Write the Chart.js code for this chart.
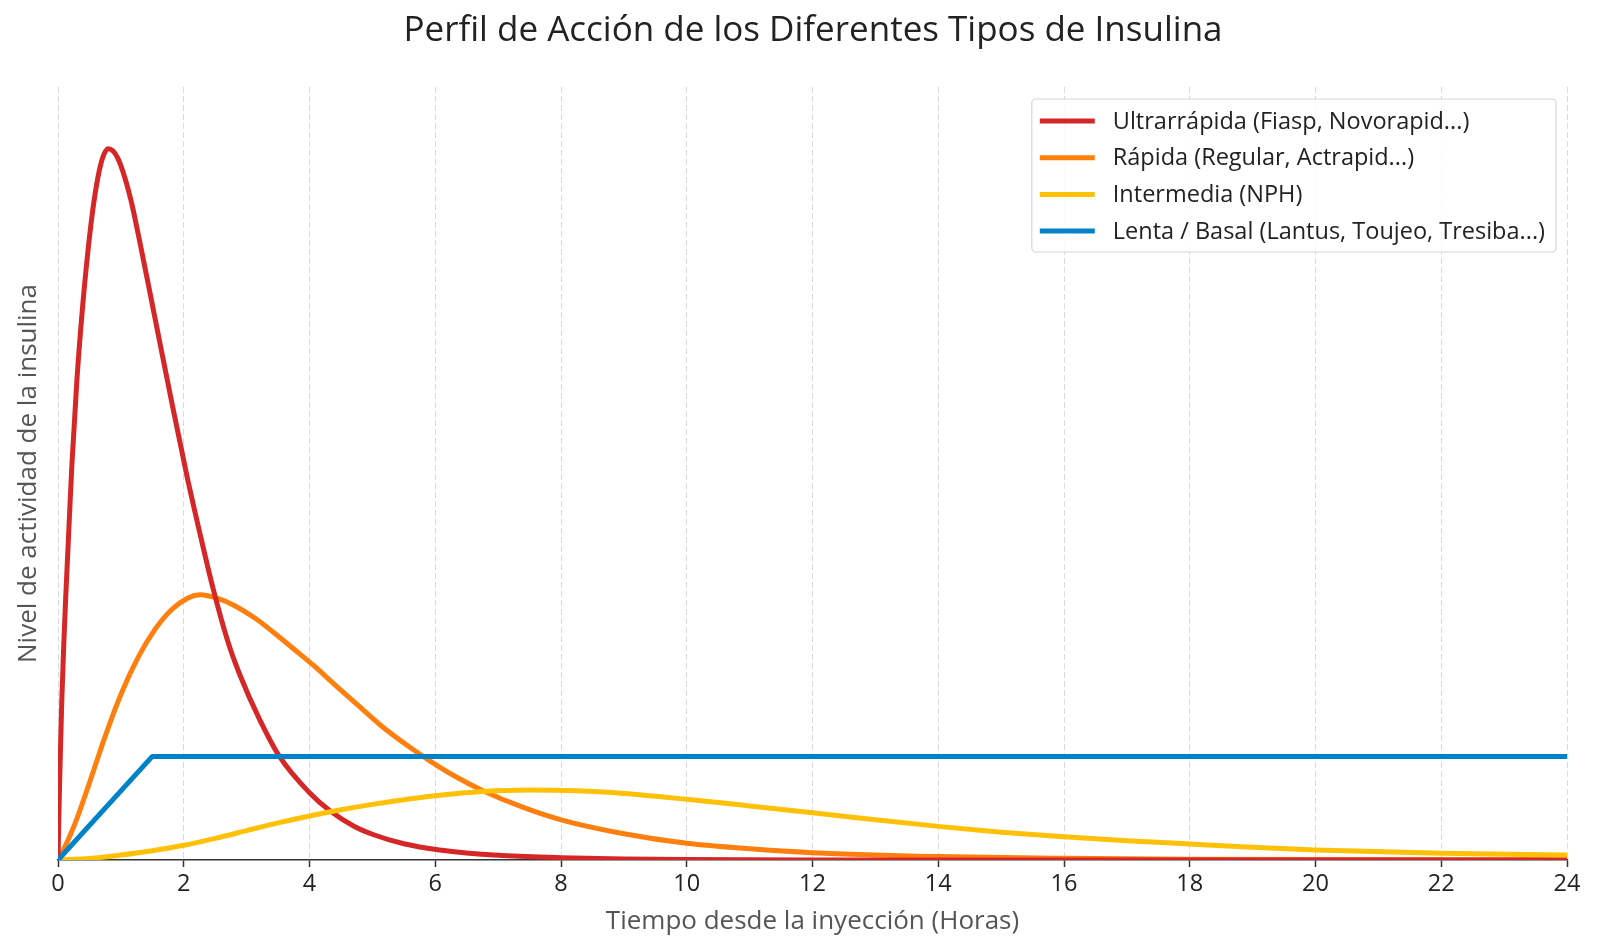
<!DOCTYPE html>
<html lang="es">
<head>
<meta charset="UTF-8">
<title>Perfil de Acción de la Insulina</title>
<script src="https://cdn.jsdelivr.net/npm/chart.js"></script>
<style>
	html, body { margin: 0; padding: 0; background: #fff; }
	#lienzo { display: block; }
</style>
</head>
<body>
<canvas id="lienzo" width="1600" height="952"></canvas>
<script>
	// valores (horas / nivel de actividad relativo)
	const horasUltra = [0, 0.02, 0.04, 0.06, 0.09, 0.12, 0.16, 0.22, 0.30, 0.38, 0.46, 0.56, 0.68, 0.80, 0.95, 1.15, 1.30, 1.46, 1.65, 1.81, 2.05, 2.25, 2.47, 2.70, 2.89, 3.20, 3.53, 4.00, 4.32, 4.70, 5.01, 5.50, 6.07, 7.00, 8.00, 9.00, 10.0, 12.0, 24.0];
	const valoresUltra = [0, 0.08, 0.145, 0.205, 0.275, 0.335, 0.405, 0.51, 0.62, 0.705, 0.775, 0.845, 0.90, 0.92, 0.908, 0.857, 0.80, 0.735, 0.657, 0.592, 0.497, 0.425, 0.35, 0.283, 0.24, 0.183, 0.133, 0.087, 0.064, 0.044, 0.033, 0.021, 0.013, 0.006, 0.003, 0.0013, 0.0006, 0.0001, 0];

	const horasRapida = [0, 0.11, 0.27, 0.48, 0.75, 1.01, 1.28, 1.54, 1.81, 2.07, 2.26, 2.55, 2.81, 3.13, 3.42, 3.75, 4.06, 4.40, 4.80, 5.15, 5.54, 5.90, 6.30, 6.75, 7.40, 8.00, 9.00, 10.0, 11.0, 12.0, 14.0, 16.0, 18.0, 20.0, 24.0];
	const valoresRapida = [0, 0.017, 0.047, 0.095, 0.160, 0.216, 0.263, 0.298, 0.324, 0.339, 0.343, 0.338, 0.329, 0.313, 0.295, 0.273, 0.252, 0.227, 0.198, 0.173, 0.149, 0.129, 0.109, 0.090, 0.068, 0.052, 0.034, 0.0216, 0.0145, 0.0095, 0.0045, 0.0022, 0.0011, 0.0006, 0.0002];

	const horasNPH = [0, 0.5, 1.0, 1.5, 2.0, 2.5, 3.0, 3.5, 4.0, 4.5, 5.0, 5.5, 6.0, 6.75, 7.5, 8.25, 9.0, 10.0, 11.0, 12.0, 13.0, 14.0, 15.0, 16.0, 17.0, 18.0, 19.0, 20.0, 22.0, 24.0];
	const valoresNPH = [0, 0.002, 0.0065, 0.012, 0.019, 0.028, 0.038, 0.048, 0.057, 0.065, 0.072, 0.078, 0.083, 0.0885, 0.0905, 0.0895, 0.086, 0.0785, 0.070, 0.0612, 0.052, 0.0435, 0.036, 0.030, 0.025, 0.0207, 0.0165, 0.013, 0.0088, 0.0065];

	const horasBasal = [0, 1.5, 24];
	const valoresBasal = [0, 0.134, 0.134];

	const marcasHoras = [0, 2, 4, 6, 8, 10, 12, 14, 16, 18, 20, 22, 24];

	const nombres = [
		'Ultrarrápida (Fiasp, Novorapid...)',
		'Rápida (Regular, Actrapid...)',
		'Intermedia (NPH)',
		'Lenta / Basal (Lantus, Toujeo, Tresiba...)'
	];

	const fuente = '"Open Sans", Roboto, sans-serif';

	function puntos(horas, valores) {
		return horas.map((h, i) => ({ x: h, y: valores[i] }));
	}

	// leyenda dibujada dentro del area del grafico, arriba a la derecha
	const leyendaCaja = {
		id: 'leyendaCaja',
		afterDraw(chart) {
			const ctx = chart.ctx;
			const area = chart.chartArea;
			ctx.save();
			ctx.font = '23.5px ' + fuente;
			var anchoTexto = 0;
			chart.data.datasets.forEach(d => {
				anchoTexto = Math.max(anchoTexto, ctx.measureText(d.label).width);
			});
			var ancho = 81 + anchoTexto + 11;
			var alto = 153;
			var x0 = area.right - 11 - ancho;
			var y0 = area.top + 12;

			ctx.beginPath();
			ctx.roundRect(x0, y0, ancho, alto, 4);
			ctx.fillStyle = 'rgba(255,255,255,0.85)';
			ctx.fill();
			ctx.strokeStyle = '#d6d6d6';
			ctx.lineWidth = 1.2;
			ctx.stroke();

			chart.data.datasets.forEach((d, i) => {
				var y = y0 + 22 + i * 36.7;
				ctx.beginPath();
				ctx.moveTo(x0 + 8, y);
				ctx.lineTo(x0 + 63, y);
				ctx.strokeStyle = d.borderColor;
				ctx.lineWidth = 5;
				ctx.stroke();
				ctx.fillStyle = '#222';
				ctx.textBaseline = 'middle';
				ctx.fillText(d.label, x0 + 81, y + 1);
			});
			ctx.restore();
		}
	};

	const ctx = document.getElementById('lienzo').getContext('2d');
	const grafico = new Chart(ctx, {
		type: 'line',
		data: {
			datasets: [{
				label: nombres[0],
				data: puntos(horasUltra, valoresUltra),
				borderColor: '#d62728',
				order: 3
			}, {
				label: nombres[1],
				data: puntos(horasRapida, valoresRapida),
				borderColor: '#ff7f0e',
				order: 4
			}, {
				label: nombres[2],
				data: puntos(horasNPH, valoresNPH),
				borderColor: '#ffc107',
				order: 2
			}, {
				label: nombres[3],
				data: puntos(horasBasal, valoresBasal),
				borderColor: '#0082c8',
				cubicInterpolationMode: 'default',
				tension: 0,
				order: 1
			}]
		},
		options: {
			responsive: false,
			animation: false,
			datasets: {
				line: {
					borderWidth: 5,
					pointRadius: 0,
					fill: false,
					cubicInterpolationMode: 'monotone',
					yAxisID: 'y',
					borderCapStyle: 'round',
					borderJoinStyle: 'round'
				}
			},
			layout: {
				padding: { left: 26, right: 0, top: 0, bottom: 0 }
			},
			plugins: {
				legend: { display: false },
				tooltip: { enabled: false },
				title: {
					display: true,
					text: 'Perfil de Acción de los Diferentes Tipos de Insulina',
					color: '#222',
					font: { family: fuente, size: 35, weight: 'normal' },
					padding: { top: 9.6, bottom: 35.4 }
				}
			},
			scales: {
				x: {
					type: 'linear',
					min: 0,
					max: 24,
					afterBuildTicks: s => { s.ticks = marcasHoras.map(v => ({ value: v })); },
					afterFit: s => { s.height = 92; },
					ticks: {
						color: '#222',
						font: { family: fuente, size: 23.5 },
						padding: 3,
						maxRotation: 0
					},
					grid: {
						color: '#d9d9d9',
						lineWidth: 1,
						tickColor: '#333',
						tickLength: 7,
						tickWidth: 1.5
					},
					border: {
						display: true,
						color: '#333',
						width: 1.5,
						dash: [6, 3]
					},
					title: {
						display: true,
						text: 'Tiempo desde la inyección (Horas)',
						color: '#555',
						font: { family: fuente, size: 26 },
						padding: { top: 0, bottom: 15 }
					}
				},
				y: {
					type: 'linear',
					position: 'left',
					min: 0,
					max: 1,
					afterFit: s => { s.width = 32; },
					ticks: { display: false },
					grid: { display: false },
					border: { display: false },
					title: {
						display: true,
						text: 'Nivel de actividad de la insulina',
						color: '#555',
						font: { family: fuente, size: 26 },
						padding: { top: -13, bottom: 0 }
					}
				},
				yDer: {
					type: 'linear',
					position: 'right',
					afterFit: s => { s.width = 33; },
					ticks: { display: false },
					grid: { display: false },
					border: { display: false }
				}
			}
		},
		plugins: [leyendaCaja]
	});
</script>
</body>
</html>
